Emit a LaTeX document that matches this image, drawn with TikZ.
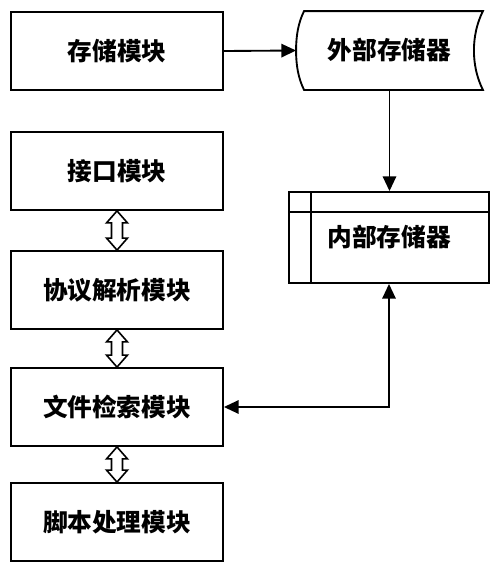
\documentclass[tikz,border=0pt]{standalone}
\usepackage{fontspec}
\setmainfont{Noto Sans CJK SC}
\usetikzlibrary{arrows.meta,calc}
\newcommand\dbla[2]{\draw[fill=white, line join=miter, line width=1.2pt] (#1.south) -- ($(#1.south)+(10.5,12)$) -- ($(#1.south)+(5.5,12)$) -- ($(#2.north)+(5.5,-12)$) -- ($(#2.north)+(10.5,-12)$) -- (#2.north) -- ($(#2.north)+(-10.5,-12)$) -- ($(#2.north)+(-5.5,-12)$) -- ($(#1.south)+(-5.5,12)$) -- ($(#1.south)+(-10.5,12)$) -- cycle;}
\begin{document}
\begin{tikzpicture}[x=0.75pt,y=-0.75pt, line width=1.4pt,
  lbl/.style={font=\bfseries\fontsize{18.5}{20}\selectfont, inner sep=0pt},
  box/.style={lbl, draw, rectangle, minimum width=159pt, minimum height=58.5pt},
  tip/.style={-{Triangle[length=11pt,width=10pt]}},
  tips/.style={{Triangle[length=11pt,width=10pt]}-{Triangle[length=11pt,width=10pt]}}
]
\useasboundingbox (0,0) rectangle (500,572);
\node[box] (s1) at (117,51) {存储模块};
\node[box] (s2) at (117,171) {接口模块};
\node[box] (s3) at (117,290) {协议解析模块};
\node[box] (s4) at (117,407) {文件检索模块};
\node[box] (s5) at (117,522) {脚本处理模块};
\node[lbl, minimum width=138.75pt, minimum height=57.75pt] (ext) at (389.5,50.5) {外部存储器};
\draw ($(ext.north west)+(8,0)$) -- (ext.north east)
  .. controls ($(ext.north east)+(-6,12)$) and ($(ext.east)+(-9,-14)$) .. ($(ext.east)+(-9,0)$)
  .. controls ($(ext.east)+(-9,14)$) and ($(ext.south east)+(-6,-12)$) .. (ext.south east)
  -- ($(ext.south west)+(8,0)$)
  .. controls ($(ext.south west)+(2,-12)$) and ($(ext.west)+(0,14)$) .. (ext.west)
  .. controls ($(ext.west)+(0,-14)$) and ($(ext.north west)+(2,12)$) .. ($(ext.north west)+(8,0)$) -- cycle;
\node[lbl, draw, minimum width=150pt, minimum height=68.25pt] (int) at (389,237.5) {内部存储器};
\draw ($(int.north west)+(0,21)$) -- ($(int.north east)+(0,21)$);
\draw ($(int.north west)+(23,0)$) -- ($(int.south west)+(23,0)$);
\draw[tip] (s1.east) -- (ext.west);
\draw[tip] (ext.south) -- (ext.south |- int.north);
\draw[tips] (int.south) |- (s4.east);
\dbla{s2}{s3}
\dbla{s3}{s4}
\dbla{s4}{s5}
\end{tikzpicture}
\end{document}
